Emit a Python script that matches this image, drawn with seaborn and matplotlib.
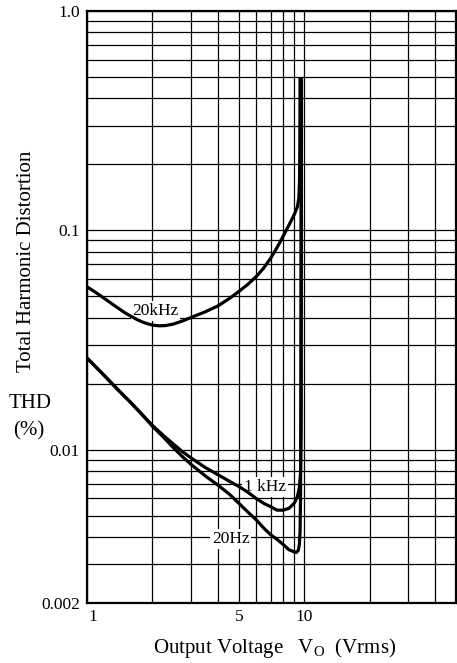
import numpy as np
import pandas as pd
import matplotlib
matplotlib.use("Agg")
import matplotlib.pyplot as plt
import matplotlib.transforms as mtransforms
from matplotlib.ticker import FixedLocator, FixedFormatter, LogLocator, NullFormatter
import seaborn as sns

# ---------------- data ----------------
v_20khz = [1.0, 1.1, 1.2, 1.3, 1.4, 1.5, 1.6, 1.7, 1.8, 1.9, 2.0, 2.15, 2.3, 2.5, 2.75, 3.0, 3.5,
           4.0, 4.5, 5.0, 5.5, 6.0, 6.5, 7.0, 7.5, 8.0, 8.5, 9.0, 9.3, 9.45, 9.52, 9.55, 9.57]
thd_20khz = [0.0553, 0.0520, 0.0490, 0.0463, 0.0440, 0.0420, 0.0405, 0.0392, 0.0382, 0.0375, 0.0370,
             0.0367, 0.0368, 0.0374, 0.0386, 0.0400, 0.0425, 0.0452, 0.0487, 0.0526, 0.0567, 0.0614,
             0.0672, 0.0745, 0.0835, 0.0940, 0.1055, 0.1180, 0.1280, 0.140, 0.170, 0.25, 0.5]

v_1khz = [1.0, 1.2, 1.4, 1.6, 1.8, 2.0, 2.25, 2.5, 2.75, 3.0, 3.5, 4.0, 4.5, 5.0, 5.5, 6.0, 6.5,
          7.0, 7.5, 8.0, 8.5, 9.0, 9.3, 9.5, 9.62, 9.68, 9.72]
thd_1khz = [0.0262, 0.0218, 0.0186, 0.0163, 0.0144, 0.0129, 0.0116, 0.0106, 0.0098, 0.0092, 0.0083,
            0.0077, 0.0072, 0.0068, 0.0064, 0.0060, 0.0057, 0.0055, 0.0053, 0.0053, 0.0054, 0.0057,
            0.0061, 0.0067, 0.0078, 0.012, 0.5]

v_20hz = [1.0, 1.2, 1.4, 1.6, 1.8, 2.0, 2.25, 2.5, 2.75, 3.0, 3.5, 4.0, 4.5, 5.0, 5.5, 6.0, 6.5,
          7.0, 7.5, 8.0, 8.5, 9.0, 9.2, 9.4, 9.5, 9.57, 9.62, 9.66, 9.7]
thd_20hz = [0.0262, 0.0218, 0.0186, 0.0163, 0.0144, 0.0128, 0.0114, 0.0102, 0.0093, 0.0086, 0.0076,
            0.0069, 0.0063, 0.0057, 0.0052, 0.0048, 0.0044, 0.0041, 0.0039, 0.0037, 0.0035, 0.00342,
            0.0034, 0.00348, 0.0037, 0.0042, 0.006, 0.02, 0.5]

series_names = ["20kHz", "1 kHz", "20Hz"]
label_x = [2.07, 6.6, 4.6]
label_y = [0.0438, 0.0069, 0.0040]

x_ticks = [1, 5, 10]
x_tick_labels = ["1", "5", "10"]
y_ticks = [0.002, 0.01, 0.1, 1.0]
y_tick_labels = ["0.002", "0.01", "0.1", "1.0"]
x_limits = (1, 50)
y_limits = (0.002, 1.0)

# ---------------- table ----------------
frames = []
for name, xs, ys in zip(series_names, [v_20khz, v_1khz, v_20hz], [thd_20khz, thd_1khz, thd_20hz]):
    frames.append(pd.DataFrame({"V": xs, "THD": ys, "series": name}))
df = pd.concat(frames, ignore_index=True)

# ---------------- style ----------------
sns.set_theme(style="white")
plt.rcParams["font.family"] = ["Liberation Serif", "DejaVu Serif"]
plt.rcParams["mathtext.fontset"] = "custom"
plt.rcParams["mathtext.rm"] = "Liberation Serif"
plt.rcParams["text.color"] = "black"

W, H = 457, 663
fig = plt.figure(figsize=(W / 100, H / 100), dpi=100)
ax_l, ax_r, ax_t, ax_b = 87, 456, 11, 603
ax = fig.add_axes([ax_l / W, 1 - ax_b / H, (ax_r - ax_l) / W, (ax_b - ax_t) / H])

sns.lineplot(data=df, x="V", y="THD", hue="series",
             palette={n: "black" for n in series_names},
             sort=False, estimator=None, legend=False, lw=2.3, ax=ax, zorder=4)
for line in ax.get_lines():
    line.set_solid_joinstyle("round")
    line.set_solid_capstyle("butt")

ax.set_xscale("log")
ax.set_yscale("log")
ax.set_xlim(*x_limits)
ax.set_ylim(*y_limits)

ax.xaxis.set_major_locator(FixedLocator(x_ticks))
ax.xaxis.set_major_formatter(FixedFormatter(x_tick_labels))
ax.xaxis.set_minor_locator(LogLocator(base=10, subs=np.arange(1, 10), numticks=60))
ax.xaxis.set_minor_formatter(NullFormatter())
ax.yaxis.set_major_locator(FixedLocator(y_ticks))
ax.yaxis.set_major_formatter(FixedFormatter(y_tick_labels))
ax.yaxis.set_minor_locator(LogLocator(base=10, subs=np.arange(1, 10), numticks=60))
ax.yaxis.set_minor_formatter(NullFormatter())

ax.tick_params(which="both", length=0, labelsize=12.5, colors="black")
ax.tick_params(axis="x", pad=4)
ax.tick_params(axis="y", pad=5)
ax.grid(which="both", color="black", lw=0.9)
ax.set_axisbelow(True)
for s in ax.spines.values():
    s.set_color("black")
    s.set_linewidth(1.6)
ax.set_xlabel("")
ax.set_ylabel("")

# shift the "1" tick label slightly right like the reference
fig.canvas.draw()
for lbl in ax.get_xticklabels():
    if lbl.get_text() == "1":
        lbl.set_transform(lbl.get_transform() + mtransforms.ScaledTranslation(6 / 100, 0, fig.dpi_scale_trans))

# curve labels
for name, lx, ly in zip(series_names, label_x, label_y):
    ax.text(lx, ly, name, fontsize=12.5, ha="center", va="center_baseline", zorder=3,
            bbox=dict(facecolor="white", edgecolor="none", pad=1.2))

# axis titles
fig.text(27 / W, 1 - 261 / H, "Total Harmonic Distortion", rotation=90, fontsize=15,
         ha="center", va="center")
fig.text(30 / W, 1 - 404 / H, "THD", fontsize=15, ha="center", va="center")
fig.text(29 / W, 1 - 431 / H, "(%)", fontsize=15, ha="center", va="center")
fig.text(275 / W, 1 - 648 / H, r"Output Voltage   V$_\mathrm{O}$  (Vrms)", fontsize=15,
         ha="center", va="center")

fig.savefig("out.png", dpi=100)
